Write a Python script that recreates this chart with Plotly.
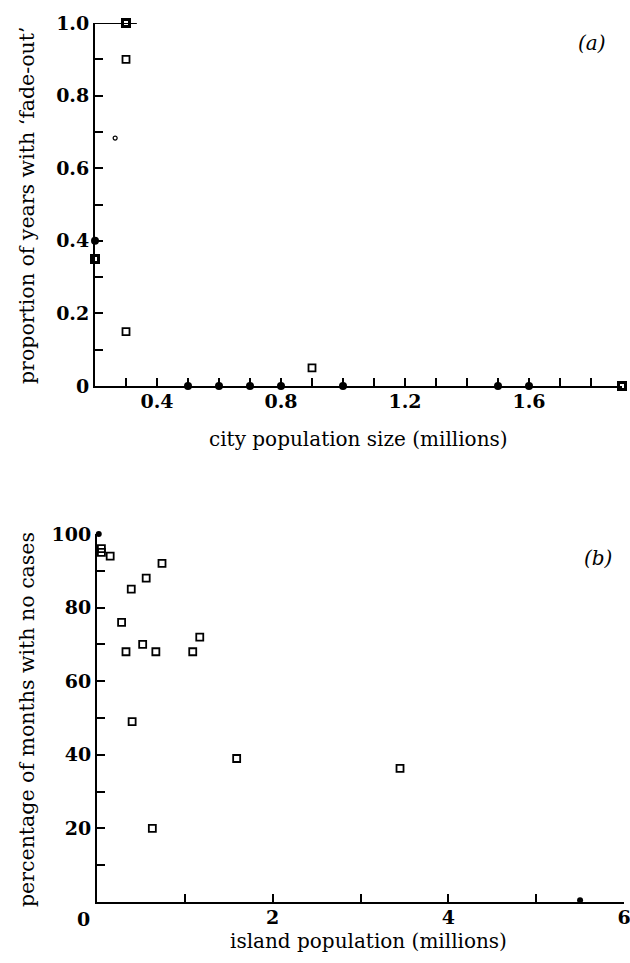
import plotly.graph_objects as go

# ---------- panel (a) data ----------
a_filled_circle_x = [0.2, 0.5, 0.6, 0.7, 0.8, 1.0, 1.5, 1.6]
a_filled_circle_y = [0.40, 0.0, 0.0, 0.0, 0.0, 0.0, 0.0, 0.0]
a_solid_square_x = [0.3, 0.2, 1.9]
a_solid_square_y = [1.0, 0.35, 0.0]
a_open_square_x = [0.3, 0.3, 0.9]
a_open_square_y = [0.90, 0.15, 0.05]
a_small_x = [0.265]
a_small_y = [0.683]

a_xtick_vals = [0.3, 0.4, 0.5, 0.6, 0.7, 0.8, 0.9, 1.0, 1.1, 1.2, 1.3, 1.4, 1.5, 1.6, 1.7, 1.8, 1.9]
a_xtick_text = ["", "0.4", "", "", "", "0.8", "", "", "", "1.2", "", "", "", "1.6", "", "", ""]
a_ytick_vals = [0, 0.1, 0.2, 0.3, 0.4, 0.5, 0.6, 0.7, 0.8, 0.9, 1.0]
a_ytick_text = ["0", "", "0.2", "", "0.4", "", "0.6", "", "0.8", "", "1.0"]

# ---------- panel (b) data ----------
b_open_square_x = [0.05, 0.05, 0.15, 0.74, 0.56, 0.39, 0.28, 1.17, 0.52, 0.33, 0.67, 1.09, 0.40, 0.63, 1.59, 3.45]
b_open_square_y = [96, 95, 94, 92, 88, 85, 76, 72, 70, 68, 68, 68, 49, 20, 39, 36.3]
b_filled_x = [0.02, 5.5]
b_filled_y = [100, 0.5]

b_xtick_vals = [1, 2, 3, 4, 5, 6]
b_xtick_text = ["", "2", "", "4", "", "6"]
b_ytick_vals = [10, 20, 30, 40, 50, 60, 70, 80, 90, 100]
b_ytick_text = ["", "20", "", "40", "", "60", "", "80", "", "100"]

SERIF = "DejaVu Serif"
W, H = 630, 963

fig = go.Figure()

def sc(x, y, xa, ya, symbol, size, lw, fill="black"):
    fig.add_trace(go.Scatter(
        x=x, y=y, xaxis=xa, yaxis=ya, mode="markers", cliponaxis=False,
        marker=dict(symbol=symbol, size=size, color=fill,
                    line=dict(color="black", width=lw)),
        showlegend=False, hoverinfo="skip"))

# panel a
sc(a_filled_circle_x, a_filled_circle_y, "x", "y", "circle", 8, 0)
sc(a_solid_square_x, a_solid_square_y, "x", "y", "square-open", 7, 3)
sc(a_open_square_x, a_open_square_y, "x", "y", "square-open", 7, 1.8)
sc(a_small_x, a_small_y, "x", "y", "circle-open", 4, 1.2)
# panel b
sc(b_open_square_x, b_open_square_y, "x2", "y2", "square-open", 7, 1.8)
sc(b_filled_x, b_filled_y, "x2", "y2", "circle", 6, 0)

def px_x(p):
    return p / W

def px_y(p):
    return 1 - p / H

tickfont = dict(family=SERIF, size=19, color="black", weight="bold")
axis_common = dict(showgrid=False, zeroline=False, showline=True, linecolor="black",
                   linewidth=2, ticks="inside", ticklen=8, tickwidth=1.5,
                   tickcolor="black", tickfont=tickfont, automargin=False,
                   tickmode="array", ticklabeloverflow="allow")

fig.update_layout(
    width=W, height=H, margin=dict(l=0, r=0, t=0, b=0),
    paper_bgcolor="white", plot_bgcolor="white", showlegend=False,
    xaxis=dict(domain=[px_x(95), px_x(622)], range=[0.2, 1.9], anchor="y",
               tickvals=a_xtick_vals, ticktext=a_xtick_text,
               ticklabelstandoff=-3, **axis_common),
    yaxis=dict(domain=[px_y(386), px_y(23)], range=[0, 1.0], anchor="x",
               tickvals=a_ytick_vals, ticktext=a_ytick_text, **axis_common),
    xaxis2=dict(domain=[px_x(97), px_x(624)], range=[0, 6], anchor="y2",
                tickvals=b_xtick_vals, ticktext=b_xtick_text,
                ticklabelstandoff=-3, **axis_common),
    yaxis2=dict(domain=[px_y(902), px_y(534)], range=[0, 100], anchor="x2",
                tickvals=b_ytick_vals, ticktext=b_ytick_text, **axis_common),
)

# short top stroke at y = 1.0 in panel (a)
fig.add_shape(type="line", xref="x", yref="y", x0=0.2, x1=0.335, y0=1.0, y1=1.0,
              line=dict(color="black", width=2))

titlefont = dict(family=SERIF, size=20, color="black")
ann = [
    dict(text="city population size (millions)", x=px_x(358), y=px_y(439),
         font=titlefont),
    dict(text="proportion of years with ‘fade-out’", x=px_x(27), y=px_y(206),
         font=dict(family=SERIF, size=20.5, color="black"), textangle=-90),
    dict(text="island population (millions)", x=px_x(368), y=px_y(941),
         font=titlefont),
    dict(text="percentage of months with no cases", x=px_x(27), y=px_y(720),
         font=dict(family=SERIF, size=20.5, color="black"), textangle=-90),
    dict(text="<i>(a)</i>", x=px_x(592), y=px_y(43), font=titlefont),
    dict(text="<i>(b)</i>", x=px_x(598), y=px_y(558), font=titlefont),
    dict(text="0", x=px_x(83), y=px_y(919), font=tickfont),
]
for a in ann:
    fig.add_annotation(xref="paper", yref="paper", showarrow=False,
                       xanchor="center", yanchor="middle", **a)

fig.write_html(
    "out.html",
    config={"displayModeBar": False},
    post_script="document.body.style.margin='0';document.body.style.overflow='hidden';",
)
